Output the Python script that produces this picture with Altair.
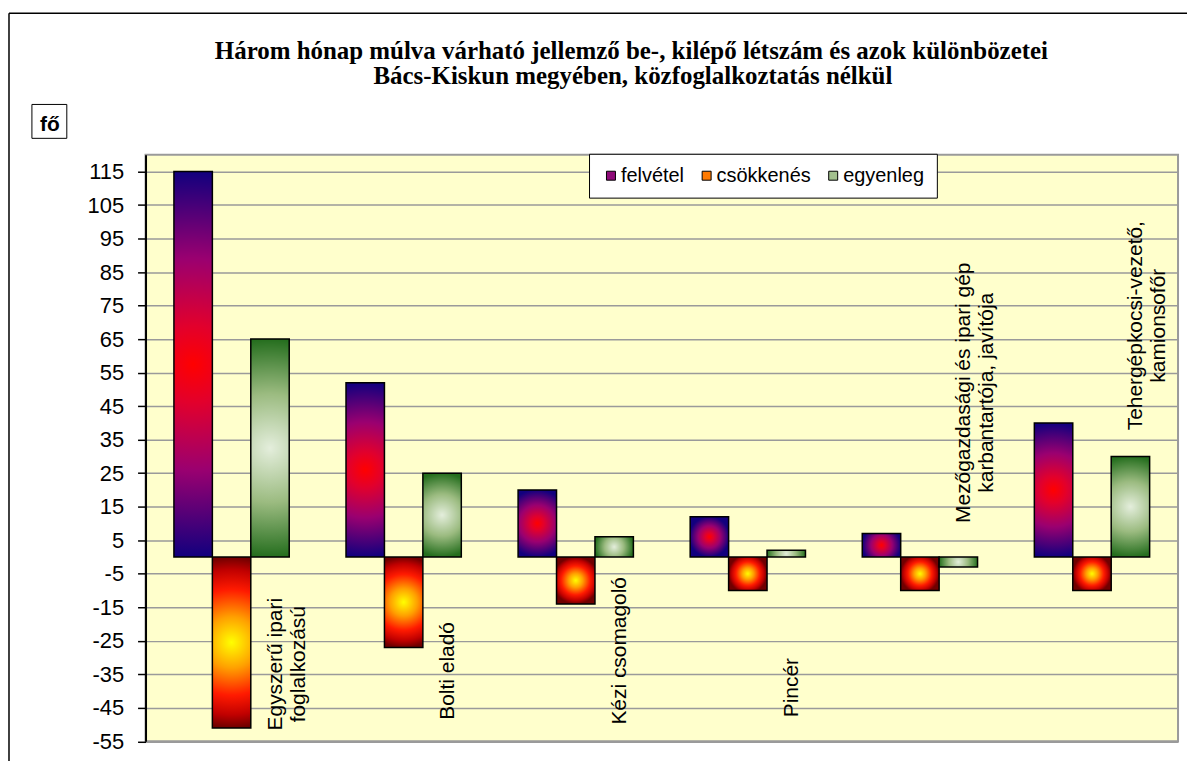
import altair as alt
import pandas as pd

# ---------------- data ----------------
categories = [
    "Egyszerű ipari foglalkozású",
    "Bolti eladó",
    "Kézi csomagoló",
    "Pincér",
    "Mezőgazdasági és ipari gép karbantartója, javítója",
    "Tehergépkocsi-vezető, kamionsofőr",
]
label_lines = [
    "Egyszerű ipari\nfoglalkozású",
    "Bolti eladó",
    "Kézi csomagoló",
    "Pincér",
    "Mezőgazdasági és ipari gép\nkarbantartója, javítója",
    "Tehergépkocsi-vezető,\nkamionsofőr",
]
label_y = [-32, -34, -28, -39, 49, 69]          # where each category label sits (in fő)
series = ["felvétel", "csökkenés", "egyenleg"]
felvetel = [115, 52, 20, 12, 7, 40]
csokkenes = [-51, -27, -14, -10, -10, -10]
egyenleg = [65, 25, 6, 2, -3, 30]
y_ticks = [-55, -45, -35, -25, -15, -5, 5, 15, 25, 35, 45, 55, 65, 75, 85, 95, 105, 115]

title_line1 = "Három hónap múlva várható jellemző be-, kilépő létszám és azok különbözetei"
title_line2 = "Bács-Kiskun megyében, közfoglalkoztatás nélkül"
unit_label = "fő"

rows = []
for name, vals in zip(series, [felvetel, csokkenes, egyenleg]):
    for c, v in zip(categories, vals):
        rows.append({"category": c, "series": name, "value": v})
df = pd.DataFrame(rows)

labels_df = pd.DataFrame({
    "category": categories,
    "label": label_lines,
    "ly": label_y,
    "series": ["egyenleg"] * len(categories),
})
dummy = pd.DataFrame({"d": [0]})

# ---------------- styling ----------------
W, H = 1036, 588.5
SANS = "Liberation Sans"
SERIF = "Liberation Serif"

grads = {
    "felvétel": {
        "gradient": "radial", "x1": 0.5, "y1": 0.5, "r1": 0, "x2": 0.5, "y2": 0.5, "r2": 0.5,
        "stops": [
            {"offset": 0, "color": "#FF0000"},
            {"offset": 0.2, "color": "#E2002C"},
            {"offset": 0.55, "color": "#9A0070"},
            {"offset": 1, "color": "#12007E"},
        ],
    },
    "csökkenés": {
        "gradient": "radial", "x1": 0.5, "y1": 0.5, "r1": 0, "x2": 0.5, "y2": 0.5, "r2": 0.5,
        "stops": [
            {"offset": 0, "color": "#FFFF00"},
            {"offset": 0.3, "color": "#FFA000"},
            {"offset": 0.62, "color": "#FF1A00"},
            {"offset": 0.85, "color": "#C00000"},
            {"offset": 1, "color": "#700000"},
        ],
    },
    "egyenleg": {
        "gradient": "radial", "x1": 0.5, "y1": 0.5, "r1": 0, "x2": 0.5, "y2": 0.5, "r2": 0.5,
        "stops": [
            {"offset": 0, "color": "#E4EEDC"},
            {"offset": 0.5, "color": "#9BBB80"},
            {"offset": 1, "color": "#256E1E"},
        ],
    },
}
legend_colors = ["#8E0A78", "#FF7A00", "#A3C08E"]

xscale = alt.Scale(domain=categories, paddingInner=0.33, paddingOuter=0.165)
oscale = alt.Scale(domain=series, paddingInner=0, paddingOuter=0)
yscale = alt.Scale(domain=[-55, 120], nice=False, zero=False)

yaxis = alt.Axis(
    values=y_ticks, grid=True, gridColor="#9A9A9A", gridWidth=1.5,
    domainColor="black", domainWidth=2, tickColor="black", tickWidth=1.5, tickSize=8,
    labelFont=SANS, labelFontSize=22, labelColor="black", labelPadding=14,
    labelOverlap=False, labelExpr="datum.value + ''",
    title=unit_label, titleAngle=0, titleX=-96.5, titleY=-24.5, titleAlign="center",
    titleBaseline="alphabetic", titleFont=SANS, titleFontSize=21, titleFontWeight="bold",
    titleColor="black",
)

X = alt.X("category:N", scale=xscale, axis=None)
XO = alt.XOffset("series:N", scale=oscale)
Y = alt.Y("value:Q", scale=yscale, axis=yaxis)

layers = []
for name in series:
    layers.append(
        alt.Chart(df).transform_filter(alt.datum.series == name)
        .mark_bar(fill=grads[name], stroke="black", strokeWidth=1.5)
        .encode(x=X, xOffset=XO, y=Y)
    )

legend_layer = alt.Chart(df).mark_square(opacity=0, size=1).encode(
    x=X, xOffset=XO, y=Y,
    color=alt.Color(
        "series:N",
        scale=alt.Scale(domain=series, range=legend_colors),
        legend=alt.Legend(
            title=None, orient="none", legendX=445, legendY=-1, direction="horizontal",
            columns=3, symbolType="square", symbolSize=81, symbolOpacity=1,
            symbolStrokeColor="black", symbolStrokeWidth=1, labelFont=SANS,
            labelFontSize=20, labelColor="black", labelOffset=0, columnPadding=12,
            fillColor="white", strokeColor="black", padding=12, labelLimit=300,
        ),
    ),
)

cat_labels = alt.Chart(labels_df).mark_text(
    angle=270, align="center", baseline="middle", lineBreak="\n",
    font=SANS, fontSize=21, color="black", dy=6,
).encode(x=X, xOffset=XO, y=alt.Y("ly:Q", scale=yscale, axis=yaxis), text="label:N")

unit_box = alt.Chart(dummy).mark_rect(fillOpacity=0, stroke="black", strokeWidth=1).encode(
    x=alt.value(-114), x2=alt.value(-79), y=alt.value(-50.5), y2=alt.value(-16.5)
)
frame_top = alt.Chart(dummy).mark_rule(color="black", strokeWidth=1.5).encode(
    x=alt.value(-137), x2=alt.value(1100), y=alt.value(-142)
)
frame_left = alt.Chart(dummy).mark_rule(color="black", strokeWidth=1.5).encode(
    x=alt.value(-137), y=alt.value(-142), y2=alt.value(700)
)
t1 = alt.Chart(dummy).mark_text(
    text=title_line1, font=SERIF, fontWeight="bold", fontSize=25, align="center",
    baseline="alphabetic", color="black",
).encode(x=alt.value(487.5), y=alt.value(-96))
t2 = alt.Chart(dummy).mark_text(
    text=title_line2, font=SERIF, fontWeight="bold", fontSize=25, align="center",
    baseline="alphabetic", color="black",
).encode(x=alt.value(489), y=alt.value(-71))

chart = alt.layer(
    *layers, legend_layer, cat_labels, unit_box, frame_top, frame_left, t1, t2
).properties(
    width=W, height=H,
    autosize=alt.AutoSizeParams(type="none"),
    padding={"left": 138, "top": 146, "right": 9, "bottom": 18},
    background="white",
).configure_view(
    fill="#FFFFCC", stroke="#9A9A9A", strokeWidth=2
).configure_axis(labelOverlap=False)

chart.save("out.html", embed_options={"renderer": "svg", "actions": False})
